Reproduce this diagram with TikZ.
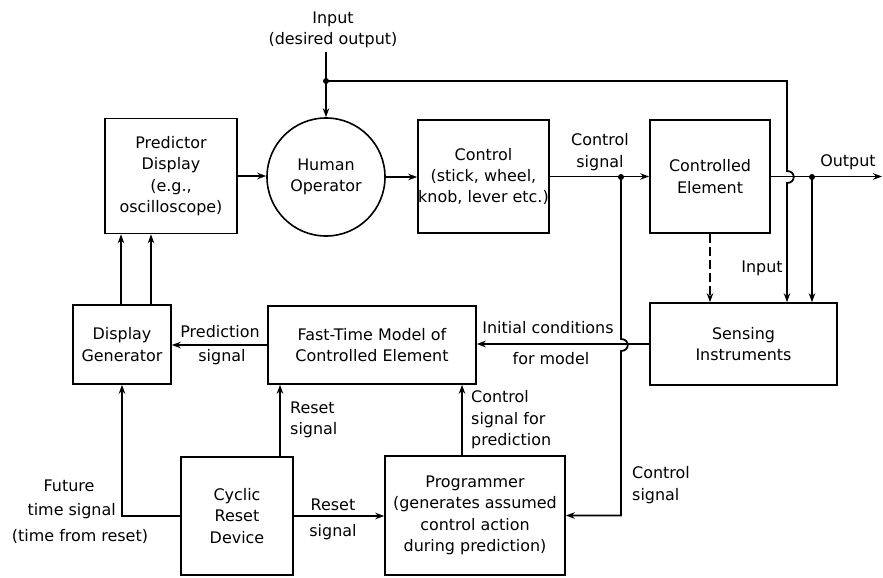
\documentclass[tikz,border=0pt]{standalone}
\usepackage{fontspec}
\setmainfont{DejaVu Sans}
\usetikzlibrary{arrows.meta,calc}
\newcommand{\dgtxt}{\fontsize{16}{21.5}\selectfont}
\begin{document}
\begin{tikzpicture}[x=1bp,y=-1bp,
  lw/.style={line width=1.8bp},
  blk/.style={draw,line width=1.6bp,align=center,inner sep=0pt,font=\dgtxt},
  arr/.style={lw,-{Stealth[length=9bp,width=6.5bp]}},
  lbl/.style={inner sep=0pt,align=center,font=\dgtxt},
  jdot/.style={circle,fill,inner sep=0pt,minimum size=6bp},
]
\useasboundingbox (0,0) rectangle (883,578);

% blocks
\node[blk,minimum width=132bp,minimum height=115bp] (pd) at (171,176) {Predictor\\Display\\(e.g.,\\oscilloscope)};
\node[blk,circle,minimum size=118bp] (ho) at (326,177) {Human\\Operator};
\node[blk,minimum width=131bp,minimum height=113bp] (ctl) at (483.5,176.5) {Control\\(stick, wheel,\\knob, lever etc.)};
\node[blk,minimum width=120bp,minimum height=113bp] (ce) at (710,176.5) {Controlled\\Element};
\node[blk,minimum width=187bp,minimum height=82bp] (si) at (743.5,344) {Sensing\\Instruments};
\node[blk,minimum width=208bp,minimum height=78bp] (ftm) at (372,345) {Fast-Time Model of\\Controlled Element};
\node[blk,minimum width=98bp,minimum height=79bp] (dg) at (122,344.5) {Display\\Generator};
\node[blk,minimum width=112bp,minimum height=118bp] (crd) at (237,516) {Cyclic\\Reset\\Device};
\node[blk,minimum width=180bp,minimum height=119bp] (prog) at (475,515.5) {Programmer\\(generates assumed\\control action\\during prediction)};

% labels
\node[lbl] (lin) at (333,30) {Input\\(desired output)};
\node[lbl] (lcs) at (600,152) {Control\\signal};
\node[lbl] (lout) at (848,162) {Output};
\node[lbl] (lsin) at (762,268) {Input};
\node[lbl] (lic) at (548,328) {Initial conditions};
\node[lbl] (lfm) at (551,359) {for model};
\node[lbl] (lps1) at (220,332) {Prediction};
\node[lbl] (lps2) at (222,357) {signal};
\node[lbl,align=left,anchor=west] (lrs1) at (290,420) {Reset\\signal};
\node[lbl] (lrs2) at (333,505) {Reset};
\node[lbl] (lrs3) at (333,532) {signal};
\node[lbl,align=left,anchor=west] (lcsp) at (471,420) {Control\\signal for\\prediction};
\node[lbl,align=left,anchor=west] (lcs2) at (632,485) {Control\\signal};
\node[lbl] (lfut) at (69,486) {Future};
\node[lbl,anchor=east] (lfts) at (116,511) {time signal};
\node[lbl] (lftr) at (80,536) {(time from reset)};

% branch points and line hops
\coordinate (inp) at (326,52);
\coordinate (j1) at (326,81);
\coordinate (fb) at (787,81);
\coordinate (hop1a) at (787,171);
\coordinate (hop1b) at (787,183);
\coordinate (j2) at (621,177);
\coordinate (j3) at (812,177);
\coordinate (out) at (882,177);
\coordinate (hop2a) at (621,339);
\coordinate (hop2b) at (621,351);

% main forward path
\draw[lw] (inp) -- (j1);
\draw[arr] (j1) -- (ho.north);
\draw[arr] (pd.east) -- (pd.east -| ho.west);
\draw[arr] (ho.east) -- (ho.east -| ctl.west);
\draw[arr] (ctl.east) -- (ctl.east -| ce.west);
\draw[arr] (ce.east) -- (ce.east -| out);

% desired output fed to the sensing instruments
\draw[arr] (j1) -- (fb) -- (hop1a) .. controls +(9,0) and +(9,0) .. (hop1b) -- (hop1b |- si.north);
\draw[arr] (j3) -- (j3 |- si.north);
\draw[arr,dash pattern=on 9bp off 4bp] (ce.south) -- (ce.south |- si.north);

% model loop
\draw[arr] (si.west) -- (si.west -| ftm.east);
\draw[arr] (ftm.west) -- (ftm.west -| dg.east);
\draw[arr] ([xshift=-1bp]dg.north) -- ([xshift=-1bp]dg.north |- pd.south);
\draw[arr] ([xshift=29bp]dg.north) -- ([xshift=29bp]dg.north |- pd.south);

% control signal to the programmer
\draw[arr] (j2) -- (hop2a) .. controls +(9,0) and +(9,0) .. (hop2b) -- (j2 |- prog.east) -- (prog.east);

% reset device and programmer
\draw[arr] (crd.west) -- (crd.west -| dg.south) -- (dg.south);
\draw[arr] ([xshift=43bp]crd.north) -- ([xshift=43bp]crd.north |- ftm.south);
\draw[arr] (crd.east) -- (crd.east -| prog.west);
\draw[arr] ([xshift=-13bp]prog.north) -- ([xshift=-13bp]prog.north |- ftm.south);

% junction dots
\node[jdot] at (j1) {};
\node[jdot] at (j2) {};
\node[jdot] at (j3) {};
\end{tikzpicture}
\end{document}
